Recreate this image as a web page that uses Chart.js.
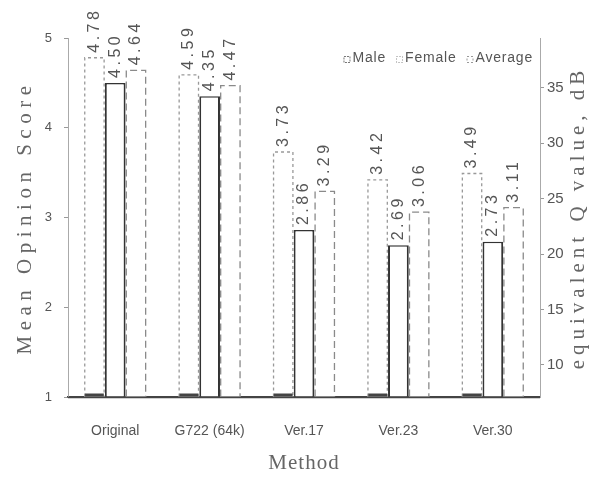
<!DOCTYPE html>
<html><head><meta charset="utf-8">
<script src="https://cdn.jsdelivr.net/npm/chart.js@4"></script>
<style>html,body{margin:0;padding:0;background:#fff}#wrap{width:598px;height:480px}</style>
</head><body><div id="wrap"><canvas id="c" width="598" height="480"></canvas></div>
<script>
const categories = ['Original', 'G722 (64k)', 'Ver.17', 'Ver.23', 'Ver.30'];
const male = [4.78, 4.59, 3.73, 3.42, 3.49];
const female = [4.50, 4.35, 2.86, 2.69, 2.73];
const average = [4.64, 4.47, 3.29, 3.06, 3.11];
const mosTicks = [1, 2, 3, 4, 5];
const qTicks = [10, 15, 20, 25, 30, 35];
const seriesNames = ['Male', 'Female', 'Average'];

const SANS = '"Liberation Sans", Arial, sans-serif';
const SERIF = '"Liberation Serif", "Times New Roman", serif';

const barDeco = {
  id: 'barDeco',
  afterDatasetsDraw(chart) {
    const ctx = chart.ctx;
    const a = chart.chartArea;
    chart.data.datasets.forEach((ds, di) => {
      const meta = chart.getDatasetMeta(di);
      meta.data.forEach((bar, i) => {
        const p = bar.getProps(['x', 'y', 'base', 'width'], true);
        const l = p.x - p.width / 2, r = p.x + p.width / 2;
        ctx.save();
        if (di !== 1) {
          ctx.strokeStyle = di === 0 ? '#999' : '#8a8a8a';
          ctx.lineWidth = 1.3;
          ctx.setLineDash(di === 0 ? [3, 3] : [7, 4]);
          ctx.beginPath();
          ctx.moveTo(l + 0.7, p.base); ctx.lineTo(l + 0.7, p.y);
          ctx.lineTo(r - 0.7, p.y); ctx.lineTo(r - 0.7, p.base);
          ctx.stroke();
        }
        if (di === 0) {
          ctx.setLineDash([]);
          ctx.strokeStyle = '#444';
          ctx.lineWidth = 3;
          ctx.beginPath();
          ctx.moveTo(l + 1, p.base - 1.5); ctx.lineTo(r - 1, p.base - 1.5);
          ctx.stroke();
        }
        ctx.setLineDash([]);
        ctx.translate(p.x, p.y - 5);
        ctx.rotate(-Math.PI / 2);
        ctx.font = '16px ' + SANS;
        ctx.letterSpacing = '3.5px';
        ctx.fillStyle = '#555';
        ctx.textAlign = 'left';
        ctx.textBaseline = 'middle';
        ctx.fillText(ds.data[i].toFixed(2), 0, 0);
        ctx.restore();
      });
    });
    // baseline of the value axis
    ctx.save();
    ctx.strokeStyle = '#444';
    ctx.lineWidth = 1.5;
    ctx.beginPath();
    ctx.moveTo(a.left, a.bottom + 0.5); ctx.lineTo(a.right, a.bottom + 0.5);
    ctx.stroke();
    ctx.restore();
  }
};

const legendStyles = [
  {stroke: '#777', dash: [2, 1]},
  {stroke: '#888', dash: [1, 2]},
  {stroke: '#999', dash: [2, 2]}
];

const titlesAndLegend = {
  id: 'titlesAndLegend',
  afterDraw(chart) {
    const ctx = chart.ctx;
    const a = chart.chartArea;
    const cy = (a.top + a.bottom) / 2;
    ctx.save();
    ctx.fillStyle = '#666';
    ctx.textAlign = 'center';
    ctx.textBaseline = 'middle';
    ctx.font = '21px ' + SERIF;
    ctx.letterSpacing = '5.5px';
    ctx.save(); ctx.translate(25, cy); ctx.rotate(-Math.PI / 2);
    ctx.fillText('Mean Opinion Score', 0, 0); ctx.restore();
    ctx.letterSpacing = '5px';
    ctx.save(); ctx.translate(578, cy); ctx.rotate(-Math.PI / 2);
    ctx.fillText('equivalent Q value, dB', 0, 0); ctx.restore();
    ctx.letterSpacing = '1px';
    ctx.fillText('Method', (a.left + a.right) / 2, 463);
    ctx.restore();

    // legend inside the plot area, top right
    ctx.save();
    ctx.font = '14px ' + SANS;
    ctx.letterSpacing = '0.8px';
    ctx.textAlign = 'left';
    ctx.textBaseline = 'middle';
    const box = 6, gapBox = 3, gapItem = 10;
    const widths = seriesNames.map(n => ctx.measureText(n).width);
    let total = 0;
    widths.forEach((w, i) => { total += box + gapBox + w + (i < widths.length - 1 ? gapItem : 0); });
    let x = a.right - 7 - total;
    const y = 58;
    seriesNames.forEach((n, i) => {
      ctx.strokeStyle = legendStyles[i].stroke;
      ctx.lineWidth = 1;
      ctx.setLineDash(legendStyles[i].dash);
      ctx.strokeRect(x + 0.5, y - 1.5, box, box);
      ctx.setLineDash([]);
      x += box + gapBox;
      ctx.fillStyle = '#555';
      ctx.fillText(n, x, y);
      x += widths[i] + gapItem;
    });
    ctx.restore();
  }
};

new Chart(document.getElementById('c'), {
  type: 'bar',
  data: {
    labels: categories,
    datasets: [
      {label: seriesNames[0], data: male, base: 1, backgroundColor: '#fff', borderWidth: 0, yAxisID: 'y'},
      {label: seriesNames[1], data: female, base: 1, backgroundColor: '#fff', borderColor: '#333',
       borderWidth: {left: 2, right: 2, top: 1.5}, borderSkipped: 'start', yAxisID: 'y'},
      {label: seriesNames[2], data: average, base: 1, backgroundColor: '#fff', borderWidth: 0, yAxisID: 'y'}
    ]
  },
  options: {
    responsive: false,
    animation: false,
    categoryPercentage: 0.66,
    barPercentage: 1.0,
    layout: {padding: {top: 38, left: 0, right: 0, bottom: 0}},
    plugins: {
      tooltip: {enabled: false},
      legend: {display: false}
    },
    scales: {
      x: {
        grid: {display: true, drawOnChartArea: false, drawTicks: false},
        border: {display: true, color: '#444', width: 1.5},
        ticks: {padding: 26, color: '#555', font: {size: 14, family: SANS}},
        afterFit(s) { s.height = 83; }
      },
      y: {
        position: 'left', min: 1, max: 5, beginAtZero: false,
        afterBuildTicks(s) { s.ticks = mosTicks.map(v => ({value: v})); },
        grid: {drawOnChartArea: false, drawTicks: true, tickLength: 4, color: '#999'},
        border: {display: true, color: '#aaa', width: 1, dash: [3, 3]},
        ticks: {padding: 12, color: '#555', font: {size: 13, family: SANS}},
        afterFit(s) { s.width = 68; }
      },
      y2: {
        position: 'right', min: 7.1, max: 39.5, beginAtZero: false,
        afterBuildTicks(s) { s.ticks = qTicks.map(v => ({value: v})); },
        grid: {drawOnChartArea: false, drawTicks: true, tickLength: 4, color: '#999'},
        border: {display: true, color: '#aaa', width: 1, dash: [2, 3]},
        ticks: {padding: 3, color: '#555', font: {size: 15, family: SANS}},
        afterFit(s) { s.width = 58; }
      }
    }
  },
  plugins: [barDeco, titlesAndLegend]
});
</script>
</body></html>
